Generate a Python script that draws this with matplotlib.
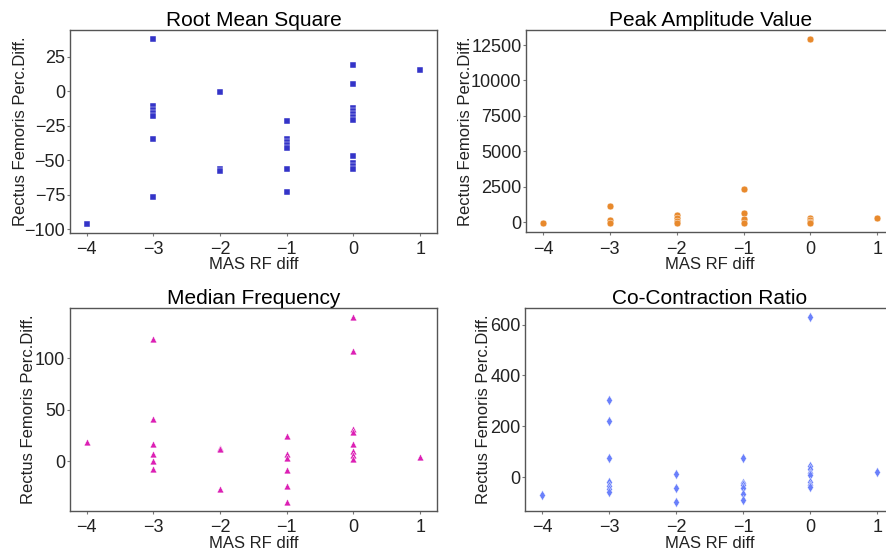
import numpy as np
import matplotlib
matplotlib.use('Agg')
import matplotlib.pyplot as plt

plt.rcParams['font.family'] = ['Liberation Sans', 'DejaVu Sans']

# MAS RF diff (x) and Rectus Femoris percentage difference (y) per metric
rms_x = [-4, -3, -3, -3, -3, -3, -3, -3, -2, -2, -2,
         -1, -1, -1, -1, -1, -1, -1,
         0, 0, 0, 0, 0, 0, 0, 0, 0, 0, 0, 1]
rms_y = [-96, 37.7, -11, -13.5, -16, -18.2, -35, -77, -1, -56.3, -58,
         -21.3, -35, -37, -39, -41, -56.8, -73.3,
         18.9, 5.1, -12.4, -14.5, -16.8, -19, -21.1, -47.3, -52, -54.3, -56.6, 15.3]

peak_x = [-4, -3, -3, -3, -2, -2, -2, -2, -1, -1, -1, -1,
          0, 0, 0, 0, 0, 1]
peak_y = [-70, 1100, 120, -40, 470, 260, 60, -60, 2320, 640, 250, -40,
          12925, 300, 150, 40, -60, 320]

medf_x = [-4, -3, -3, -3, -3, -3, -3, -2, -2, -2,
          -1, -1, -1, -1, -1, -1,
          0, 0, 0, 0, 0, 0, 0, 0, 1]
medf_y = [19, 118.6, 40.8, 17.3, 6.9, 0, -7.8, 12.7, 11.8, -26.8,
          24.2, 7.5, 3.3, -8.8, -23.9, -39.2,
          140, 107.2, 31, 28.1, 17.3, 10.1, 5.9, 2.3, 3.9]

ccr_x = [-4, -3, -3, -3, -3, -3, -3, -3, -2, -2, -2,
         -1, -1, -1, -1, -1, -1,
         0, 0, 0, 0, 0, 0, 0, 0, 1]
ccr_y = [-71, 302, 219, 76, -18, -35, -48, -58, 10.5, -42, -97,
         75, -25, -33, -42, -67, -91,
         629, 42, 30, 18, 8, -20, -30, -40, 18.5]

titles = ['Root Mean Square', 'Peak Amplitude Value', 'Median Frequency', 'Co-Contraction Ratio']
x_ticks = [-4, -3, -2, -1, 0, 1]
rms_ticks = [-100, -75, -50, -25, 0, 25]
peak_ticks = [0, 2500, 5000, 7500, 10000, 12500]
medf_ticks = [0, 50, 100]
ccr_ticks = [0, 200, 400, 600]

colors = ['#3434c8', '#e8892c', '#dc1fb4', '#6a80fb']
markers = ['s', 'o', '^', 'd']
sizes = [22, 24, 24, 26]
xs = [rms_x, peak_x, medf_x, ccr_x]
ys = [rms_y, peak_y, medf_y, ccr_y]
yticks = [rms_ticks, peak_ticks, medf_ticks, ccr_ticks]

# axes boxes in figure coordinates [left, bottom, width, height]
positions = [
    [0.079, 0.579, 0.414, 0.367],
    [0.594, 0.580, 0.415, 0.366],
    [0.079, 0.076, 0.414, 0.367],
    [0.593, 0.076, 0.416, 0.367],
]
# where the y label sits (axes coords), as in the reference
ylabel_x = [-0.114, -0.144, -0.092, -0.094]

fig = plt.figure(figsize=(8.86, 5.53), dpi=100)
for i in range(4):
    ax = fig.add_axes(positions[i])
    ax.scatter(xs[i], ys[i], marker=markers[i], color=colors[i], s=sizes[i],
               edgecolors='white', linewidths=0.3, zorder=3)
    ax.set_title(titles[i], fontsize=15, pad=3)
    ax.set_xlabel('MAS RF diff', fontsize=12, labelpad=-0.5, color='#222222')
    ax.set_ylabel('Rectus Femoris Perc.Diff.', fontsize=12, color='#222222')
    ax.yaxis.set_label_coords(ylabel_x[i], 0.5)
    ax.set_xticks(x_ticks)
    ax.set_yticks(yticks[i])
    ax.tick_params(labelsize=13, labelcolor='#222222', color='#777777',
                   length=2, width=0.8, pad=1.5)
    ax.tick_params(axis='x', pad=4)
    ax.margins(x=0.05, y=0.05)
    for sp in ax.spines.values():
        sp.set_color('#555555')
        sp.set_linewidth(1.0)

fig.savefig('out.png', dpi=100)
